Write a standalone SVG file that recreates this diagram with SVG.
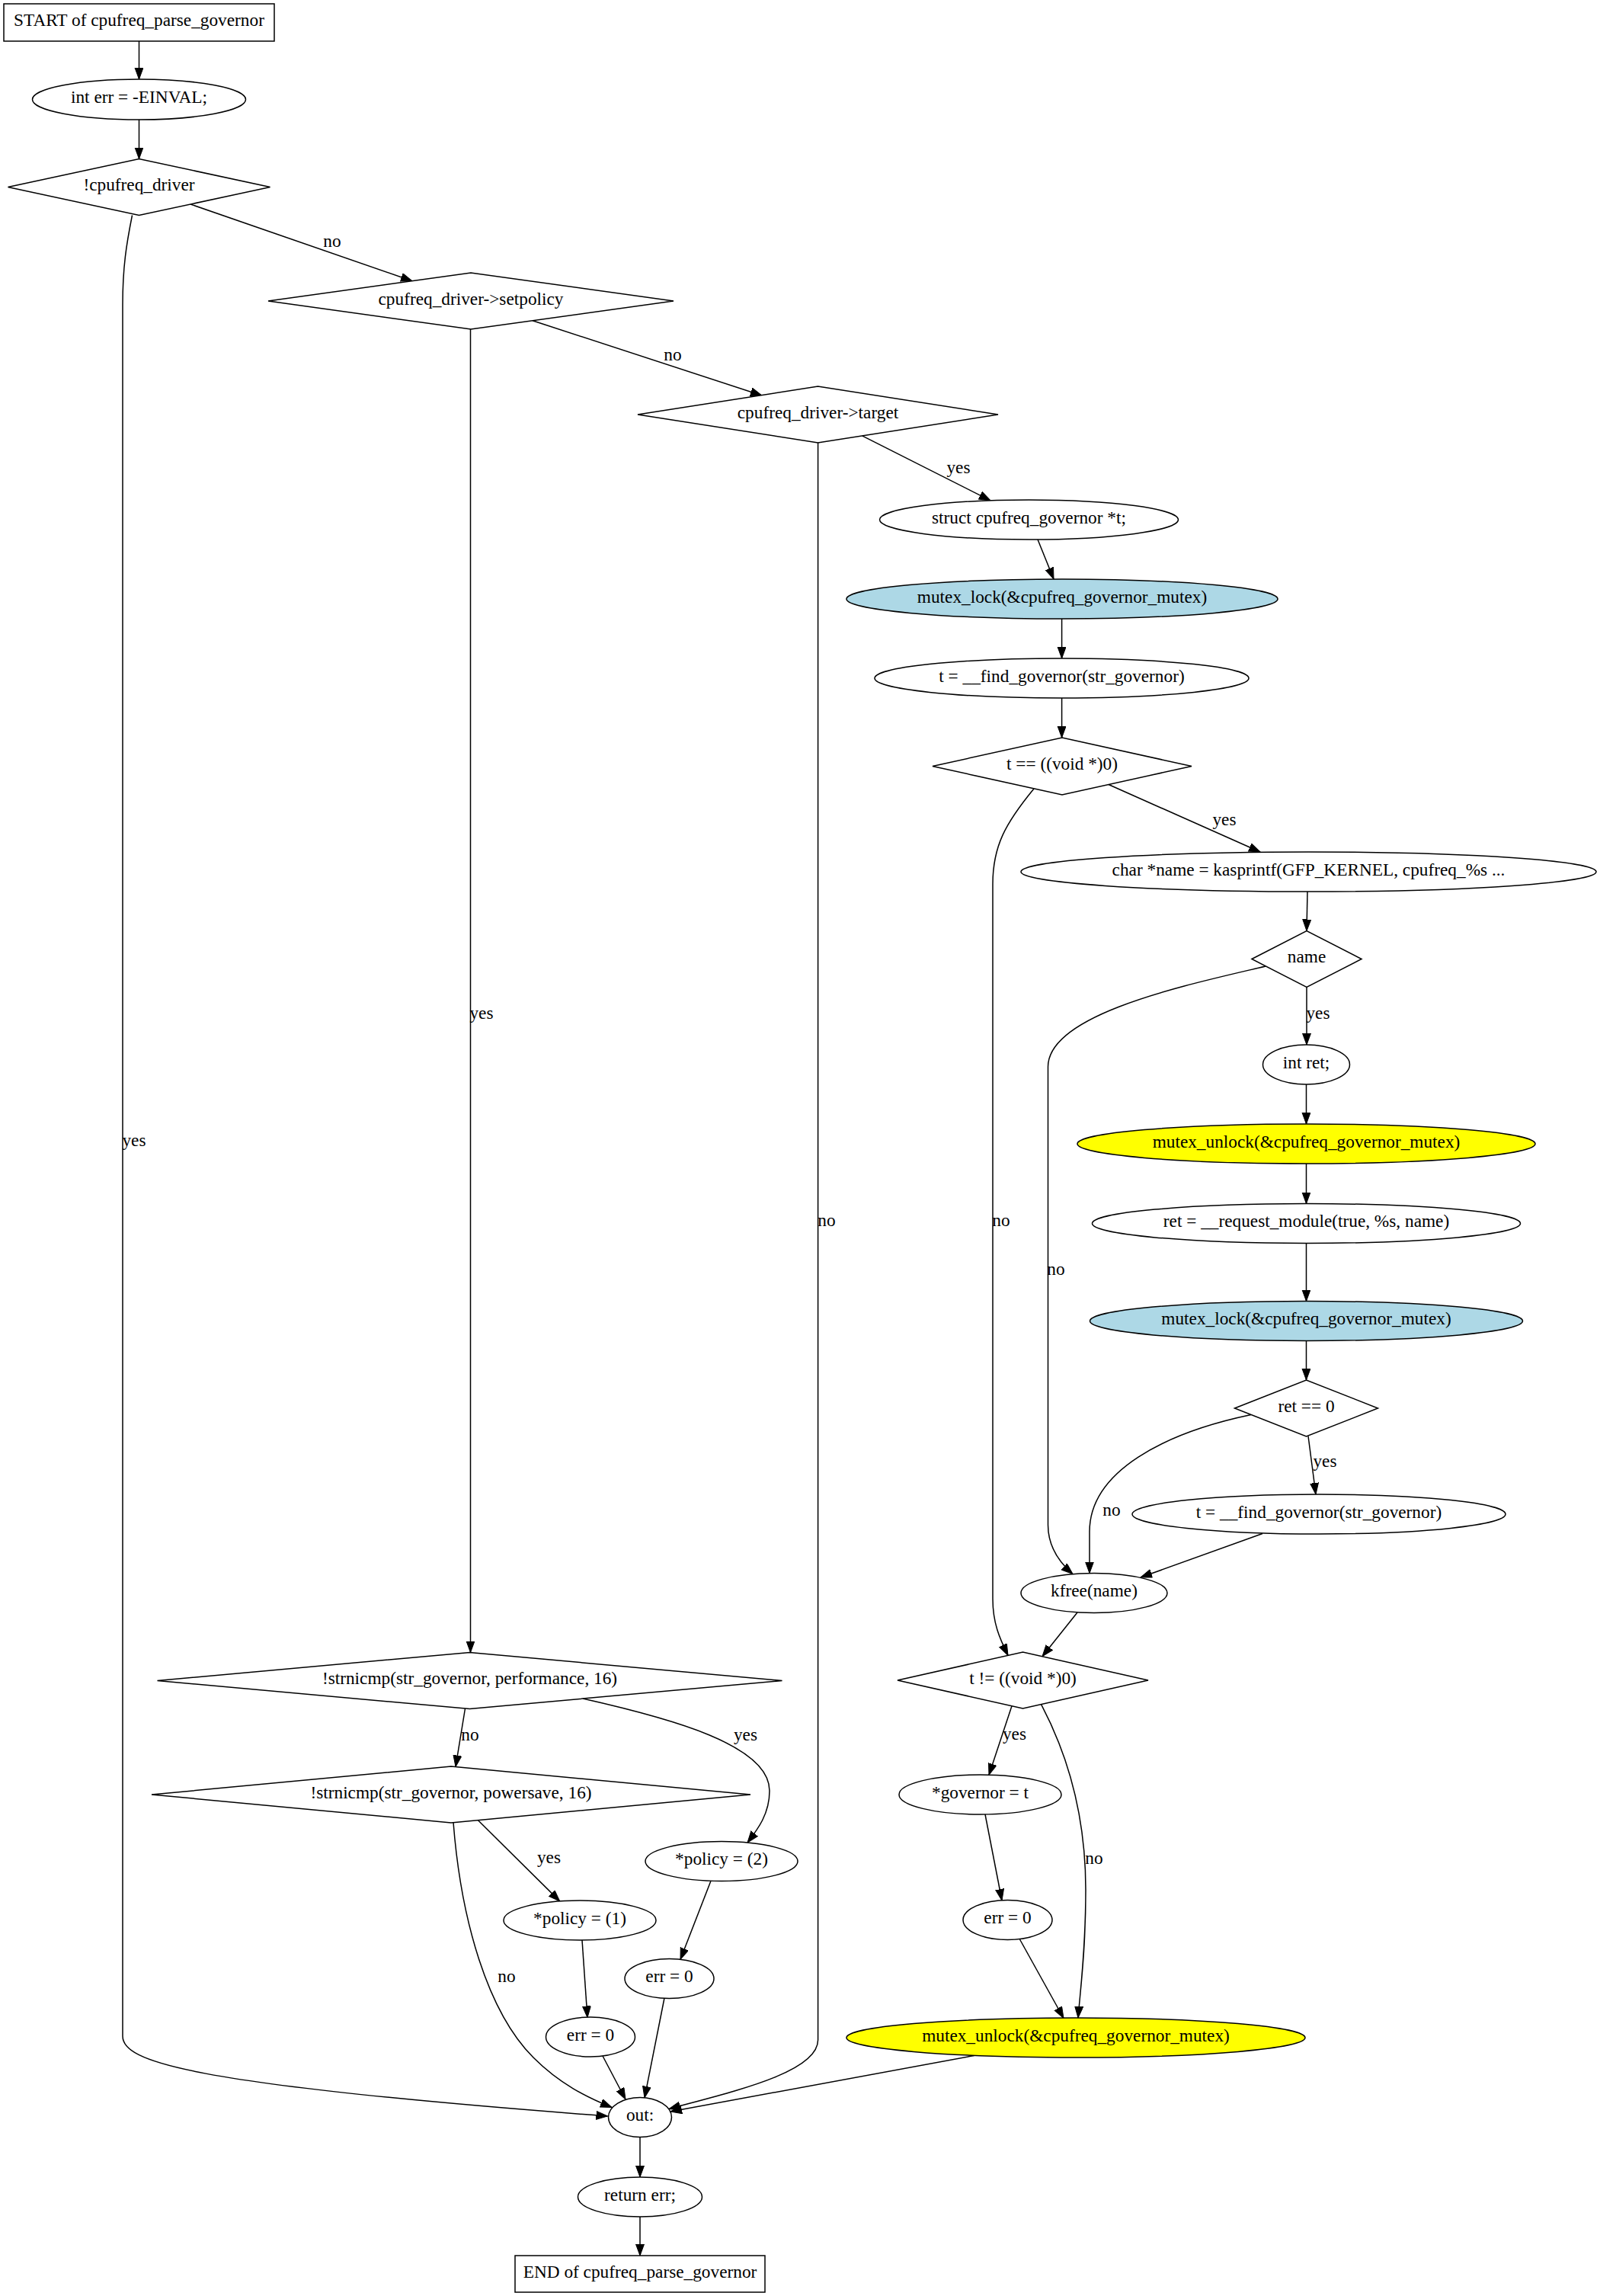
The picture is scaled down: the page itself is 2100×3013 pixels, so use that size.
<svg xmlns="http://www.w3.org/2000/svg" width="2100" height="3013" viewBox="0 0 2100 3013">
<style>
text{font-family:"Liberation Serif","Times New Roman",serif;font-size:23.3px;fill:#000;text-anchor:middle}
.n{fill:#fff;stroke:#000;stroke-width:1.5}
.lb{fill:#add8e6}
.ye{fill:#ffff00}
.e{fill:none;stroke:#000;stroke-width:1.5;marker-end:url(#ah)}
</style>
<defs>
<marker id="ah" markerUnits="userSpaceOnUse" markerWidth="16" markerHeight="12" refX="15" refY="5.5" orient="auto">
<path d="M0,0 L15,5.5 L0,11 Z" fill="#000" stroke="#000" stroke-width="1"/>
</marker>
</defs>
<rect width="2100" height="3013" fill="#fff"/>
<g id="connectors">
<path class="e" d="M182.5,53.6 L182.5,104"/>
<path class="e" d="M182.5,157 L182.5,208.5"/>
<path class="e" d="M250,268 L541,368.7"/>
<text x="436" y="324">no</text>
<path class="e" d="M173.5,282.5 C166,320 161,350 161,400 L161,2672 C161,2705 240,2735 797.5,2777"/>
<text x="176" y="1504">yes</text>
<path class="e" d="M699,420.7 L1000,519"/>
<text x="883" y="473">no</text>
<path class="e" d="M617.5,432 L617.5,2168.5"/>
<text x="632" y="1337">yes</text>
<path class="e" d="M1131.6,571.9 L1300,656.9"/>
<text x="1258" y="621">yes</text>
<path class="e" d="M1073.6,581 L1073.6,2677 C1073.6,2720 960,2745 878,2767.5"/>
<text x="1085" y="1609">no</text>
<path class="e" d="M1362,708 L1383,760"/>
<path class="e" d="M1393.6,812 L1393.6,864"/>
<path class="e" d="M1393.6,916 L1393.6,968"/>
<path class="e" d="M1455,1029.5 L1654,1118"/>
<text x="1607" y="1083">yes</text>
<path class="e" d="M1357,1035 C1320,1080 1303,1110 1303,1160 L1303,2098 C1303,2130 1312,2150 1323,2172.4"/>
<text x="1314" y="1609">no</text>
<path class="e" d="M1716,1170 L1715,1221.5"/>
<path class="e" d="M1715,1295.5 L1715,1371"/>
<text x="1730" y="1337">yes</text>
<path class="e" d="M1661,1268 C1560,1292 1375.5,1330 1375.5,1400 L1375.5,2001 C1375.5,2030 1390,2050 1408,2065.6"/>
<text x="1386" y="1673">no</text>
<path class="e" d="M1714.5,1423 L1714.5,1475"/>
<path class="e" d="M1714.5,1527 L1714.5,1579.5"/>
<path class="e" d="M1714.5,1631.5 L1714.5,1707.5"/>
<path class="e" d="M1714.5,1759.5 L1714.5,1811"/>
<path class="e" d="M1717,1884.5 L1727,1961"/>
<text x="1739" y="1925">yes</text>
<path class="e" d="M1642,1856.5 C1530,1880 1430,1930 1430,2010 L1430,2064.5"/>
<text x="1459" y="1989">no</text>
<path class="e" d="M1657,2012.5 L1497,2070"/>
<path class="e" d="M1414,2116 L1368,2173.7"/>
<path class="e" d="M1328,2238.7 L1298,2329.2"/>
<text x="1331.5" y="2283">yes</text>
<path class="e" d="M1366.6,2236.6 C1400,2300 1425,2380 1425,2480 C1425,2560 1418,2610 1415,2648"/>
<text x="1436" y="2446">no</text>
<path class="e" d="M1293,2381 L1315,2494"/>
<path class="e" d="M1338.5,2545 L1396,2648.5"/>
<path class="e" d="M1278.6,2697.5 L880,2771"/>
<path class="e" d="M610.5,2242 L598,2318.5"/>
<text x="617" y="2284">no</text>
<path class="e" d="M765,2229.1 C880,2255 1010,2290 1010,2350 C1010,2380 995,2400 981,2418"/>
<text x="978.5" y="2284">yes</text>
<path class="e" d="M627.5,2388.7 L734.7,2494.9"/>
<text x="720.5" y="2445">yes</text>
<path class="e" d="M595,2391.5 C605,2520 640,2640 700,2700 C735,2735 770,2752 803,2765.5"/>
<text x="665" y="2601">no</text>
<path class="e" d="M933,2468.2 L893,2571.3"/>
<path class="e" d="M764,2546 L771,2647.5"/>
<path class="e" d="M791,2698 L821,2755"/>
<path class="e" d="M872,2622 L846,2752.8"/>
<path class="e" d="M840,2804.5 L840,2857"/>
<path class="e" d="M840,2909 L840,2960"/>
</g>
<g id="start"><rect class="n" x="5" y="5" width="355" height="49"/><text x="182.5" y="34">START of cpufreq_parse_governor</text></g>
<g id="int_err"><ellipse class="n" cx="182.5" cy="130.5" rx="140" ry="26.5"/><text x="182.5" y="135">int err = -EINVAL;</text></g>
<g id="not_driver"><polygon class="n" points="10.5,245.5 182.5,208.5 354.5,245.5 182.5,282.5"/><text x="182.5" y="250">!cpufreq_driver</text></g>
<g id="setpolicy"><polygon class="n" points="352,395 618,358 884,395 618,432"/><text x="618" y="399.5">cpufreq_driver-&gt;setpolicy</text></g>
<g id="target"><polygon class="n" points="837,544 1073.5,507 1310,544 1073.5,581"/><text x="1073.5" y="548.5">cpufreq_driver-&gt;target</text></g>
<g id="struct_t"><ellipse class="n" cx="1350.5" cy="682" rx="196" ry="26"/><text x="1350.5" y="686.5">struct cpufreq_governor *t;</text></g>
<g id="mutex_lock1"><ellipse class="n lb" cx="1394" cy="786" rx="283" ry="26"/><text x="1394" y="790.5">mutex_lock(&amp;cpufreq_governor_mutex)</text></g>
<g id="find1"><ellipse class="n" cx="1393.5" cy="890" rx="245.5" ry="26"/><text x="1393.5" y="894.5">t = __find_governor(str_governor)</text></g>
<g id="t_null"><polygon class="n" points="1224,1005.5 1394,968 1564,1005.5 1394,1043"/><text x="1394" y="1010">t == ((void *)0)</text></g>
<g id="kasprintf"><ellipse class="n" cx="1717.5" cy="1144" rx="377.5" ry="26"/><text x="1717.5" y="1148.5">char *name = kasprintf(GFP_KERNEL, cpufreq_%s ...</text></g>
<g id="name"><polygon class="n" points="1643,1258.5 1715,1221.5 1787,1258.5 1715,1295.5"/><text x="1715" y="1263">name</text></g>
<g id="int_ret"><ellipse class="n" cx="1714.5" cy="1397" rx="57" ry="26"/><text x="1714.5" y="1401.5">int ret;</text></g>
<g id="mutex_unlock1"><ellipse class="n ye" cx="1714.5" cy="1501" rx="300.5" ry="26"/><text x="1714.5" y="1505.5">mutex_unlock(&amp;cpufreq_governor_mutex)</text></g>
<g id="request_module"><ellipse class="n" cx="1714.5" cy="1605.5" rx="281" ry="26"/><text x="1714.5" y="1610">ret = __request_module(true, %s, name)</text></g>
<g id="mutex_lock2"><ellipse class="n lb" cx="1714.5" cy="1733.5" rx="284" ry="26"/><text x="1714.5" y="1738">mutex_lock(&amp;cpufreq_governor_mutex)</text></g>
<g id="ret_zero"><polygon class="n" points="1620.5,1848 1714.5,1811 1808.5,1848 1714.5,1885"/><text x="1714.5" y="1852.5">ret == 0</text></g>
<g id="find2"><ellipse class="n" cx="1731" cy="1987" rx="245" ry="26"/><text x="1731" y="1991.5">t = __find_governor(str_governor)</text></g>
<g id="kfree"><ellipse class="n" cx="1436" cy="2090.5" rx="96" ry="26"/><text x="1436" y="2095">kfree(name)</text></g>
<g id="t_not_null"><polygon class="n" points="1178,2205 1342.5,2168 1507,2205 1342.5,2242"/><text x="1342.5" y="2209.5">t != ((void *)0)</text></g>
<g id="governor_t"><ellipse class="n" cx="1286.5" cy="2355" rx="106.5" ry="26"/><text x="1286.5" y="2359.5">*governor = t</text></g>
<g id="err0_c"><ellipse class="n" cx="1322.5" cy="2519.5" rx="58.5" ry="26"/><text x="1322.5" y="2524">err = 0</text></g>
<g id="mutex_unlock2"><ellipse class="n ye" cx="1412" cy="2674" rx="301" ry="26"/><text x="1412" y="2678.5">mutex_unlock(&amp;cpufreq_governor_mutex)</text></g>
<g id="performance"><polygon class="n" points="206.5,2205.5 616.5,2168.5 1026.5,2205.5 616.5,2242.5"/><text x="616.5" y="2210">!strnicmp(str_governor, performance, 16)</text></g>
<g id="powersave"><polygon class="n" points="199,2355 592,2318 985,2355 592,2392"/><text x="592" y="2359.5">!strnicmp(str_governor, powersave, 16)</text></g>
<g id="policy2"><ellipse class="n" cx="947" cy="2442.5" rx="100" ry="26"/><text x="947" y="2447">*policy = (2)</text></g>
<g id="policy1"><ellipse class="n" cx="761" cy="2520" rx="100" ry="26"/><text x="761" y="2524.5">*policy = (1)</text></g>
<g id="err0_b"><ellipse class="n" cx="878.5" cy="2596.5" rx="58.5" ry="26"/><text x="878.5" y="2601">err = 0</text></g>
<g id="err0_a"><ellipse class="n" cx="775" cy="2673" rx="58.5" ry="26"/><text x="775" y="2677.5">err = 0</text></g>
<g id="out"><ellipse class="n" cx="840" cy="2778.5" rx="41.5" ry="26"/><text x="840" y="2783">out:</text></g>
<g id="return_err"><ellipse class="n" cx="840" cy="2883" rx="81.5" ry="26"/><text x="840" y="2887.5">return err;</text></g>
<g id="end"><rect class="n" x="676" y="2960" width="328" height="48"/><text x="840" y="2988.5">END of cpufreq_parse_governor</text></g>
</svg>
